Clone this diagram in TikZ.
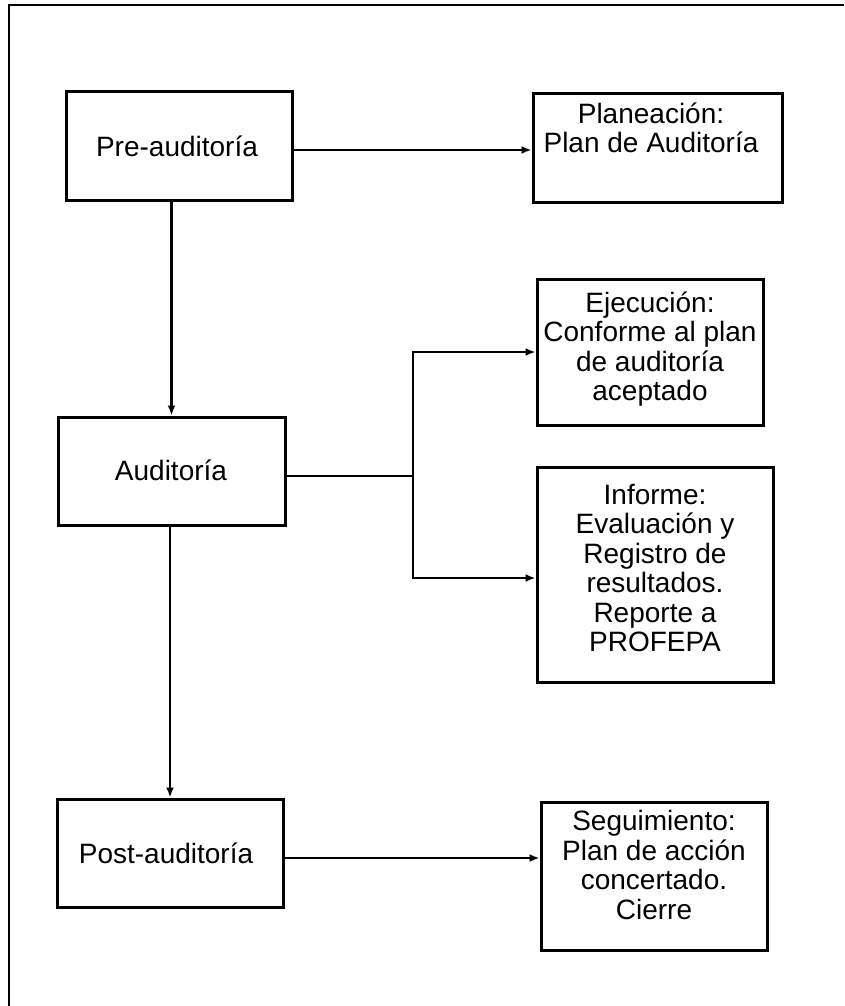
\documentclass[tikz,border=0pt]{standalone}
\usepackage{fontspec}
\setmainfont{Liberation Sans}
\usetikzlibrary{arrows.meta,calc}
\begin{document}
\begin{tikzpicture}[x=1pt,y=-1pt,
  box/.style={draw=black,line width=3pt,rectangle,inner sep=0pt},
  txt/.style={align=center,inner sep=0pt,font=\fontsize{28}{29.5}\selectfont},
  conn/.style={line width=2.4pt},
  arr/.style={line width=2.4pt,-{Latex[length=10pt,width=8pt]}}]
\useasboundingbox (0,0) rectangle (844,1006);
% frame
\draw[line width=2.4pt] (9,1006) -- (9,5) -- (844,5);
% boxes
\node[box,minimum width=226pt,minimum height=108pt] (pre)  at (179,146) {};
\node[box,minimum width=249pt,minimum height=108pt] (plan) at (657.5,148) {};
\node[box,minimum width=226pt,minimum height=146pt] (ejec) at (650,352) {};
\node[box,minimum width=227pt,minimum height=108pt] (aud)  at (171.5,471) {};
\node[box,minimum width=236pt,minimum height=215pt] (inf)  at (655,574.5) {};
\node[box,minimum width=226pt,minimum height=108pt] (post) at (170,853) {};
\node[box,minimum width=226pt,minimum height=148pt] (seg)  at (654,876) {};
% texts
\node[txt] (tpre)  at (177,146) {Pre-auditoría};
\node[txt] (tplan) at (651,128) {Planeación:\\Plan de Auditoría};
\node[txt] (tejec) at (650,349) {Ejecución:\\Conforme al plan\\de auditoría\\aceptado};
\node[txt] (taud)  at (171,470) {Auditoría};
\node[txt] (tinf)  at (655,568) {Informe:\\Evaluación y\\Registro de\\resultados.\\Reporte a\\PROFEPA};
\node[txt] (tpost) at (166,853) {Post-auditoría};
\node[txt] (tseg)  at (654,865) {Seguimiento:\\Plan de acción\\concertado.\\Cierre};
% connector end points
\coordinate (p1) at ($(pre.east)+(0,4)$);
\coordinate (p2) at (p1 -| plan.west);
\coordinate (br) at (413,476);
\coordinate (a1) at (aud.east |- br);
\coordinate (i1) at ($(inf.west)+(0,3.5)$);
\coordinate (q1) at ($(post.east)+(0,5)$);
\coordinate (q2) at (q1 -| seg.west);
% connectors
\draw[arr] (p1) -- (p2);
\draw[arr] (pre.south -| aud.north) -- (aud.north);
\draw[conn] (a1) -- (br);
\draw[arr] (br) |- (ejec.west);
\draw[arr] (br) |- (i1);
\draw[arr] (aud.south -| post.north) -- (post.north);
\draw[arr] (q1) -- (q2);
\end{tikzpicture}
\end{document}
